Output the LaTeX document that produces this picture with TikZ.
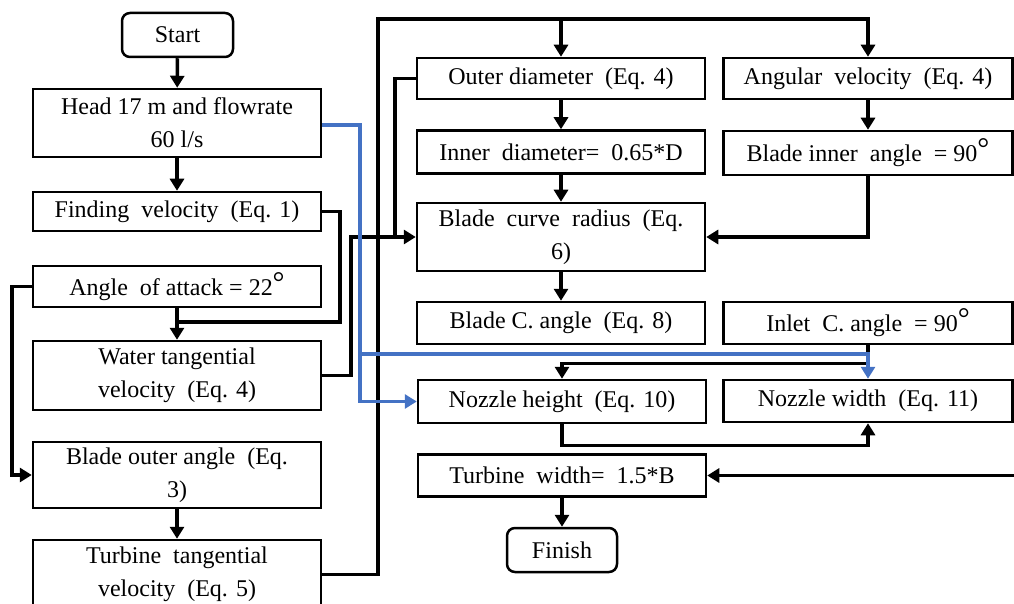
\documentclass[tikz,border=0pt]{standalone}
\usepackage{fontspec}
\setmainfont{Liberation Serif}
\usetikzlibrary{arrows.meta}
\definecolor{myblue}{RGB}{68,114,196}
\newcommand\degmark{\raisebox{3pt}{\fontsize{30}{30}\selectfont °}}
\begin{document}
\begin{tikzpicture}[x=1pt,y=-1pt,
  box/.style={draw, line width=2.5pt, inner sep=0pt, align=center,
    font=\fontsize{24}{33}\selectfont, minimum width=288pt},
  term/.style={box, rounded corners=8pt, minimum width=111pt, minimum height=44pt},
  wire/.style={line width=3.5pt},
  conn/.style={line width=3.5pt, -{Triangle[length=12pt,width=14pt]}},
  bconn/.style={draw=myblue, line width=3.3pt, -{Triangle[length=12pt,width=14pt]}}]
\useasboundingbox (0,0) rectangle (1014,604);

% left column
\node[term] (start) at (177.5,35) {Start};
\node[box, minimum height=68pt] (head) at (177,123) {Head 17 m and flowrate\\60 l/s};
\node[box, minimum height=39pt] (fv) at (177,211.5) {Finding\ \ velocity\ \ (Eq. 1)};
\node[box, minimum height=41pt] (aa) at (177,286.5) {Angle\ \ of attack = 22\degmark};
\node[box, minimum height=69pt] (wt) at (177,375.5) {Water tangential\\velocity\ \ (Eq. 4)};
\node[box, minimum height=66pt] (bo) at (177,475) {Blade outer angle\ \ (Eq.\\3)};
\node[box, minimum height=69pt] (tt) at (177,574.5) {Turbine\ \ tangential\\velocity\ \ (Eq. 5)};

% middle column
\node[box, minimum height=41pt] (od) at (561,78.5) {Outer diameter\ \ (Eq. 4)};
\node[box, minimum height=43pt] (id) at (561,152) {Inner\ \ diameter=\ \ 0.65*D};
\node[box, minimum height=68pt] (bcr) at (561,237) {Blade\ \ curve\ \ radius\ \ (Eq.\\6)};
\node[box, minimum height=42pt] (bca) at (561,323) {Blade C. angle\ \ (Eq. 8)};
\node[box, minimum height=43pt] (nh) at (562,401.5) {Nozzle height\ \ (Eq. 10)};
\node[box, minimum height=42pt] (tw) at (562,475.5) {Turbine\ \ width=\ \ 1.5*B};
\node[term, minimum width=110pt] (fin) at (562,550) {Finish};

% right column
\node[box, minimum width=289pt, minimum height=41pt] (av) at (868,78.5) {Angular\ \ velocity\ \ (Eq. 4)};
\node[box, minimum width=289pt, minimum height=44pt] (bia) at (868,153) {Blade inner\ \ angle\ \ = 90\degmark};
\node[box, minimum width=289pt, minimum height=42pt] (ica) at (868,323) {Inlet\ \ C. angle\ \ = 90\degmark};
\node[box, minimum width=289pt, minimum height=42pt] (nw) at (868,401) {Nozzle width\ \ (Eq. 11)};

% left column connectors
\draw[conn] (start) -- (head);
\draw[conn] (head) -- (fv);
\draw[wire] (fv.east) -- (340,211.5) -- (340,322) -- (177,322);
\draw[conn] (aa) -- (wt);
\draw[conn] (aa.west) -- (12,286.5) |- (bo.west);
\draw[conn] (bo) -- (tt);
\draw[conn] (wt.east) -- (351,375.5) |- (bcr.west);
\draw[wire] (od.west) -- (395,78.5) -- (395,237);

% top loop
\draw[conn] (tt.east) -- (378,574.5) -- (378,19) -| (av.north);
\draw[conn] (od.north |- 0,19) -- (od.north);

% middle / right connectors
\draw[conn] (od) -- (id);
\draw[conn] (id) -- (bcr);
\draw[conn] (bcr) -- (bca);
\draw[conn] (av) -- (bia);
\draw[conn] (bia.south) |- (bcr.east);
\draw[conn] (ica.south) -- ++(0,18) -| (nh.north);
\draw[conn] (nh.south) -- ++(0,21) -| (nw.south);
\draw[conn] (nw.east) -- (1030,401) |- (tw.east);
\draw[conn] (tw) -- (fin);

% blue connectors
\draw[bconn] (head.east |- 0,125) -- (360,125) |- (nh.west);
\draw[bconn] (360,354) -| (nw.north);
\end{tikzpicture}
\end{document}
